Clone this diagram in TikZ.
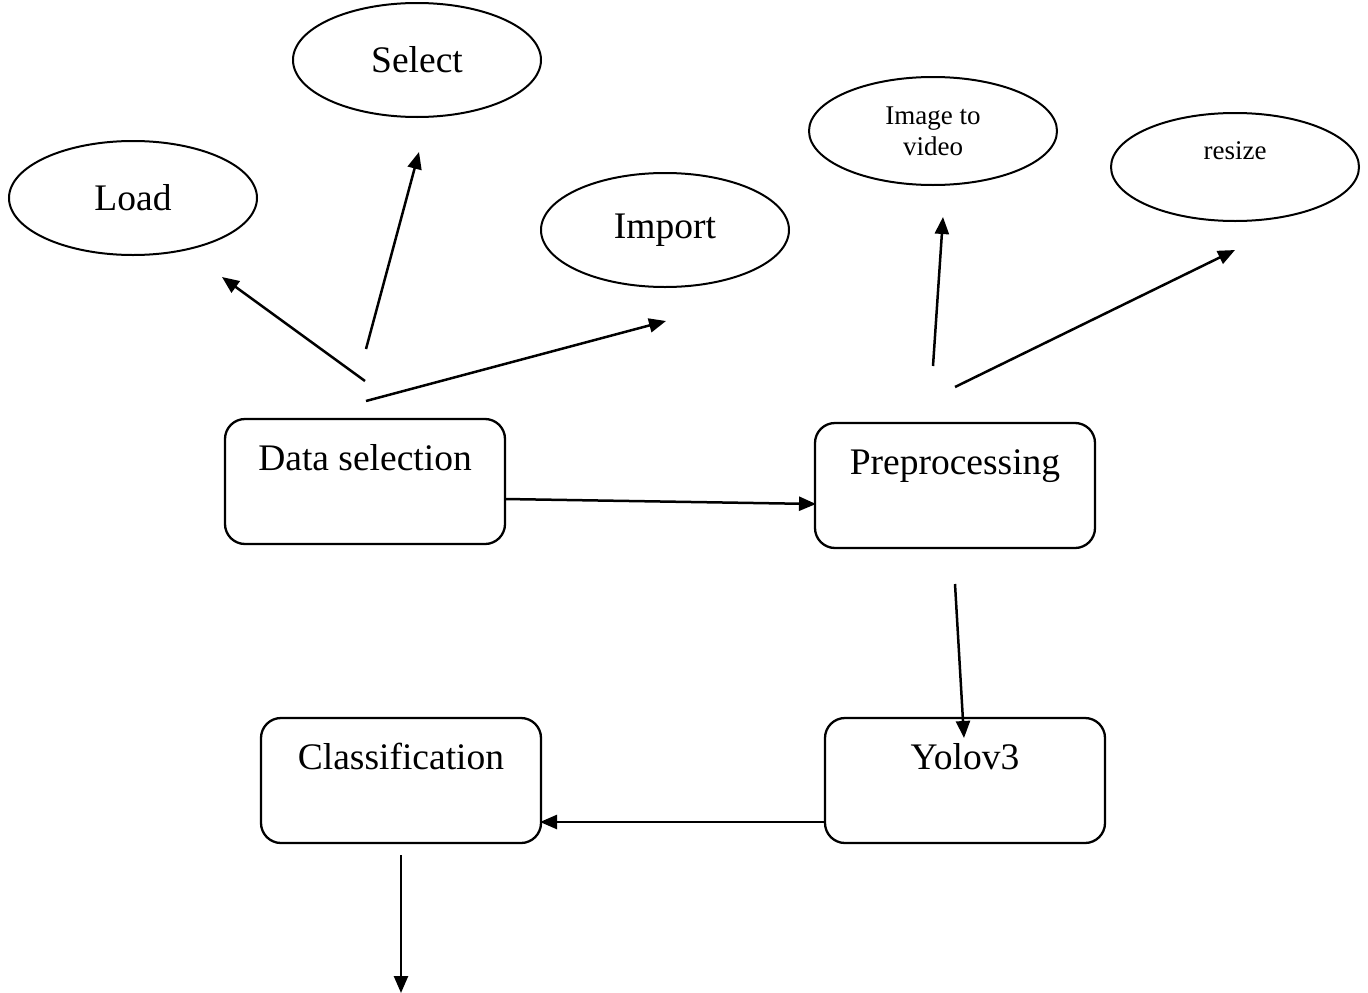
\documentclass[tikz,border=0pt]{standalone}
\usepackage{fontspec}
\setmainfont{Liberation Serif}
\usetikzlibrary{shapes.geometric,arrows.meta}
\begin{document}
\begin{tikzpicture}[x=1pt,y=-1pt,
  stepbox/.style={draw,line width=2.3pt,rounded corners=20pt,minimum width=280pt,
    inner xsep=0pt,inner ysep=0pt,text height=51pt,text depth=74pt,
    font=\fontsize{37.5}{42}\selectfont},
  bigoval/.style={draw,ellipse,line width=2pt,minimum width=248pt,minimum height=114pt,
    inner sep=0pt,font=\fontsize{37.5}{42}\selectfont},
  smalloval/.style={draw,ellipse,line width=2pt,minimum width=248pt,minimum height=108pt,
    inner sep=0pt,font=\fontsize{27}{30}\selectfont,align=center},
  arr/.style={line width=2.5pt,-{Triangle[length=17pt,width=14pt]}}]
\useasboundingbox (0,0) rectangle (1368,993);

% main process boxes (text sits near the top edge)
\node[stepbox] (ds)   at (365,481.5) {Data selection};
\node[stepbox] (pre)  at (955,485.5) {Preprocessing};
\node[stepbox] (cls)  at (401,780.5) {Classification};
\node[stepbox] (yolo) at (965,780.5) {Yolov3};

% sub-steps
\node[bigoval] (load)   at (133,198) {Load};
\node[bigoval] (select) at (417,60)  {Select};
\node[bigoval] (import) at (665,230) {Import};
\node[smalloval] (i2v)  at (933,131) {Image to\\[1pt]video};
\node[smalloval,text height=10pt,text depth=26pt] (resize) at (1235,167) {resize};

% free arrow ends
\coordinate (a1s) at (365,381);  \coordinate (a1e) at (222,277);
\coordinate (a2s) at (366,349);  \coordinate (a2e) at (419,152);
\coordinate (a3s) at (366,401);  \coordinate (a3e) at (666,321);
\coordinate (b1s) at (933,366);  \coordinate (b1e) at (943,217);
\coordinate (b2s) at (955,387);  \coordinate (b2e) at (1235,250);
\coordinate (c1s) at (505,499);  \coordinate (c1e) at (816,504);
\coordinate (c2s) at (955,584);  \coordinate (c2e) at (964,738);
\coordinate (c3s) at (824,822);  \coordinate (c3e) at (540,822);
\coordinate (c4s) at (401,855);  \coordinate (c4e) at (401,993);

\draw[arr] (a1s) -- (a1e);
\draw[arr] (a2s) -- (a2e);
\draw[arr] (a3s) -- (a3e);
\draw[arr] (b1s) -- (b1e);
\draw[arr] (b2s) -- (b2e);
\draw[arr] (c1s) -- (c1e);
\draw[arr] (c2s) -- (c2e);
\draw[arr] (c3s) -- (c3e);
\draw[arr] (c4s) -- (c4e);
\end{tikzpicture}
\end{document}
